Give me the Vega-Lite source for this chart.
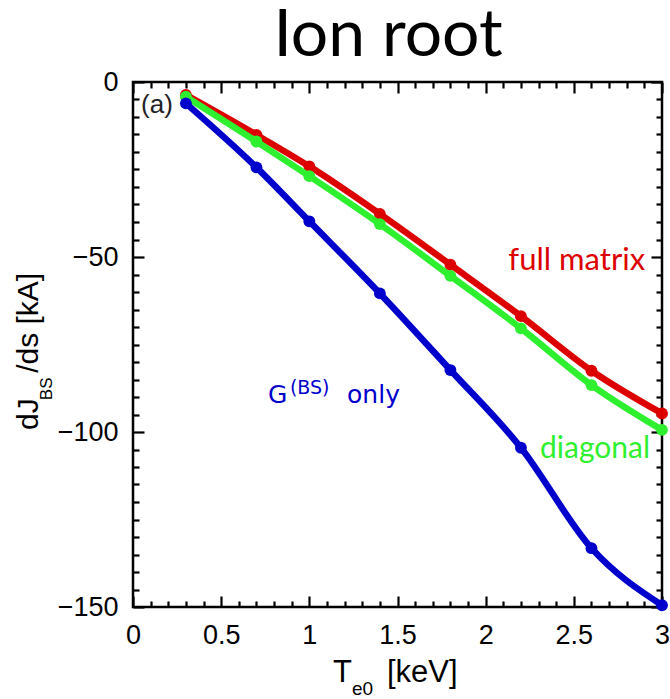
{
  "$schema": "https://vega.github.io/schema/vega-lite/v6.json",
  "width": 529,
  "height": 525,
  "autosize": {"type": "none"},
  "padding": {"left": 133, "top": 82, "right": 8, "bottom": 92},
  "background": "white",
  "config": {"view": {"stroke": "black", "strokeWidth": 2.5}, "font": "Liberation Sans", "axis": {"grid": false, "title": null, "domain": false, "tickColor": "black", "tickWidth": 2.2, "labelColor": "black", "labelFont": "Liberation Sans", "labelFontSize": 27, "labelFlush": false, "labelOverlap": false, "labelBound": false}},
  "data": {"values": [
    {"series": "full matrix", "T": 0.3, "dJ": -3.7},
    {"series": "full matrix", "T": 0.7, "dJ": -15.1},
    {"series": "full matrix", "T": 1.0, "dJ": -24.1},
    {"series": "full matrix", "T": 1.4, "dJ": -37.7},
    {"series": "full matrix", "T": 1.8, "dJ": -52.2},
    {"series": "full matrix", "T": 2.2, "dJ": -66.9},
    {"series": "full matrix", "T": 2.6, "dJ": -82.5},
    {"series": "full matrix", "T": 3.0, "dJ": -94.7},
    {"series": "diagonal", "T": 0.3, "dJ": -4.2},
    {"series": "diagonal", "T": 0.7, "dJ": -17.0},
    {"series": "diagonal", "T": 1.0, "dJ": -26.9},
    {"series": "diagonal", "T": 1.4, "dJ": -40.6},
    {"series": "diagonal", "T": 1.8, "dJ": -55.4},
    {"series": "diagonal", "T": 2.2, "dJ": -70.4},
    {"series": "diagonal", "T": 2.6, "dJ": -86.6},
    {"series": "diagonal", "T": 3.0, "dJ": -99.4},
    {"series": "G only", "T": 0.3, "dJ": -6.1},
    {"series": "G only", "T": 0.7, "dJ": -24.4},
    {"series": "G only", "T": 1.0, "dJ": -39.8},
    {"series": "G only", "T": 1.4, "dJ": -60.4},
    {"series": "G only", "T": 1.8, "dJ": -82.3},
    {"series": "G only", "T": 2.2, "dJ": -104.5},
    {"series": "G only", "T": 2.6, "dJ": -133.2},
    {"series": "G only", "T": 3.0, "dJ": -149.5}
  ]},
  "resolve": {"axis": {"x": "independent", "y": "independent"}},
  "layer": [
    {
      "transform": [{"filter": "datum.series === 'full matrix'"}],
      "mark": {"type": "line", "color": "#dd0000", "strokeWidth": 6.5, "interpolate": "monotone", "point": {"filled": true, "size": 140, "color": "#dd0000", "opacity": 1}},
      "encoding": {
        "x": {"field": "T", "type": "quantitative", "scale": {"domain": [0, 3], "nice": false, "zero": false},
          "axis": {"orient": "bottom", "values": [0, 0.5, 1, 1.5, 2, 2.5, 3], "format": "~g", "offset": -11, "tickSize": 11, "labelPadding": 15}},
        "y": {"field": "dJ", "type": "quantitative", "scale": {"domain": [-150, 0], "nice": false, "zero": false},
          "axis": {"orient": "left", "values": [-150, -100, -50, 0], "format": "d", "offset": -11, "tickSize": 11, "labelPadding": 15}}
      }
    },
    {
      "transform": [{"filter": "datum.series === 'diagonal'"}],
      "mark": {"type": "line", "color": "#2ef02e", "strokeWidth": 6.5, "interpolate": "monotone", "point": {"filled": true, "size": 140, "color": "#2ef02e", "opacity": 1}},
      "encoding": {
        "x": {"field": "T", "type": "quantitative",
          "axis": {"orient": "bottom", "labels": false, "offset": -6, "tickSize": 6,
            "values": [0.1,0.2,0.3,0.4,0.6,0.7,0.8,0.9,1.1,1.2,1.3,1.4,1.6,1.7,1.8,1.9,2.1,2.2,2.3,2.4,2.6,2.7,2.8,2.9]}},
        "y": {"field": "dJ", "type": "quantitative",
          "axis": {"orient": "left", "labels": false, "offset": -6, "tickSize": 6,
            "values": [-145,-140,-135,-130,-125,-120,-115,-110,-105,-95,-90,-85,-80,-75,-70,-65,-60,-55,-45,-40,-35,-30,-25,-20,-15,-10,-5]}}
      }
    },
    {
      "transform": [{"filter": "datum.series === 'G only'"}],
      "mark": {"type": "line", "color": "#0000cc", "strokeWidth": 6.5, "interpolate": "monotone", "point": {"filled": true, "size": 140, "color": "#0000cc", "opacity": 1}},
      "encoding": {
        "x": {"field": "T", "type": "quantitative",
          "axis": {"orient": "top", "labels": false, "values": [0, 0.5, 1, 1.5, 2, 2.5, 3], "offset": -11, "tickSize": 11}},
        "y": {"field": "dJ", "type": "quantitative",
          "axis": {"orient": "right", "labels": false, "values": [-150, -100, -50, 0], "offset": -11, "tickSize": 11}}
      }
    },
    {
      "data": {"values": [{}]},
      "mark": {"type": "text", "text": "full matrix", "font": "Lato", "fontSize": 31, "color": "#dd0000", "align": "right", "baseline": "alphabetic"},
      "encoding": {
        "x": {"datum": 2.904, "type": "quantitative",
          "axis": {"orient": "top", "labels": false, "offset": -6, "tickSize": 6,
            "values": [0.1,0.2,0.3,0.4,0.6,0.7,0.8,0.9,1.1,1.2,1.3,1.4,1.6,1.7,1.8,1.9,2.1,2.2,2.3,2.4,2.6,2.7,2.8,2.9]}},
        "y": {"datum": -53.7, "type": "quantitative",
          "axis": {"orient": "right", "labels": false, "offset": -6, "tickSize": 6,
            "values": [-145,-140,-135,-130,-125,-120,-115,-110,-105,-95,-90,-85,-80,-75,-70,-65,-60,-55,-45,-40,-35,-30,-25,-20,-15,-10,-5]}}
      }
    },
    {
      "data": {"values": [{}]},
      "mark": {"type": "text", "text": "Ion root", "font": "Lato", "fontSize": 66, "color": "black", "align": "center", "baseline": "alphabetic"},
      "encoding": {"x": {"datum": 1.446, "type": "quantitative", "axis": null}, "y": {"datum": 7.43, "type": "quantitative", "axis": null}}
    },
    {
      "data": {"values": [{}]},
      "mark": {"type": "text", "text": "diagonal", "font": "Lato", "fontSize": 30, "color": "#2ef02e", "align": "right", "baseline": "alphabetic"},
      "encoding": {"x": {"datum": 2.932, "type": "quantitative", "axis": null}, "y": {"datum": -107.4, "type": "quantitative", "axis": null}}
    },
    {
      "data": {"values": [{}]},
      "mark": {"type": "text", "text": "G", "font": "DejaVu Sans", "fontSize": 25, "color": "#0000cc", "align": "left", "baseline": "alphabetic"},
      "encoding": {"x": {"datum": 0.766, "type": "quantitative", "axis": null}, "y": {"datum": -91.7, "type": "quantitative", "axis": null}}
    },
    {
      "data": {"values": [{}]},
      "mark": {"type": "text", "text": "(BS)", "font": "DejaVu Sans", "fontSize": 19, "color": "#0000cc", "align": "left", "baseline": "alphabetic"},
      "encoding": {"x": {"datum": 0.89, "type": "quantitative", "axis": null}, "y": {"datum": -89.2, "type": "quantitative", "axis": null}}
    },
    {
      "data": {"values": [{}]},
      "mark": {"type": "text", "text": "only", "font": "DejaVu Sans", "fontSize": 25, "color": "#0000cc", "align": "left", "baseline": "alphabetic"},
      "encoding": {"x": {"datum": 1.214, "type": "quantitative", "axis": null}, "y": {"datum": -91.7, "type": "quantitative", "axis": null}}
    },
    {
      "data": {"values": [{}]},
      "mark": {"type": "text", "text": "(a)", "font": "Liberation Sans", "fontSize": 26, "color": "#222222", "align": "center", "baseline": "middle"},
      "encoding": {"x": {"datum": 0.136, "type": "quantitative", "axis": null}, "y": {"datum": -6.6, "type": "quantitative", "axis": null}}
    },
    {
      "data": {"values": [{}]},
      "mark": {"type": "text", "text": "T", "font": "Liberation Sans", "fontSize": 31, "color": "black", "align": "left", "baseline": "alphabetic"},
      "encoding": {"x": {"datum": 1.134, "type": "quantitative", "axis": null}, "y": {"datum": -171.4, "type": "quantitative", "axis": null}}
    },
    {
      "data": {"values": [{}]},
      "mark": {"type": "text", "text": "e0", "font": "Liberation Sans", "fontSize": 19, "color": "black", "align": "left", "baseline": "alphabetic"},
      "encoding": {"x": {"datum": 1.242, "type": "quantitative", "axis": null}, "y": {"datum": -175.2, "type": "quantitative", "axis": null}}
    },
    {
      "data": {"values": [{}]},
      "mark": {"type": "text", "text": "[keV]", "font": "Liberation Sans", "fontSize": 31, "color": "black", "align": "left", "baseline": "alphabetic"},
      "encoding": {"x": {"datum": 1.44, "type": "quantitative", "axis": null}, "y": {"datum": -171.4, "type": "quantitative", "axis": null}}
    },
    {
      "data": {"values": [{}]},
      "mark": {"type": "text", "text": "dJ", "font": "Liberation Sans", "fontSize": 30, "color": "black", "align": "left", "baseline": "alphabetic", "angle": 270},
      "encoding": {"x": {"datum": -0.539, "type": "quantitative", "axis": null}, "y": {"datum": -99.4, "type": "quantitative", "axis": null}}
    },
    {
      "data": {"values": [{}]},
      "mark": {"type": "text", "text": "BS", "font": "Liberation Sans", "fontSize": 17, "color": "black", "align": "left", "baseline": "alphabetic", "angle": 270},
      "encoding": {"x": {"datum": -0.459, "type": "quantitative", "axis": null}, "y": {"datum": -90.9, "type": "quantitative", "axis": null}}
    },
    {
      "data": {"values": [{}]},
      "mark": {"type": "text", "text": "/ds [kA]", "font": "Liberation Sans", "fontSize": 30, "color": "black", "align": "left", "baseline": "alphabetic", "angle": 270},
      "encoding": {"x": {"datum": -0.539, "type": "quantitative", "axis": null}, "y": {"datum": -83.1, "type": "quantitative", "axis": null}}
    }
  ]
}
